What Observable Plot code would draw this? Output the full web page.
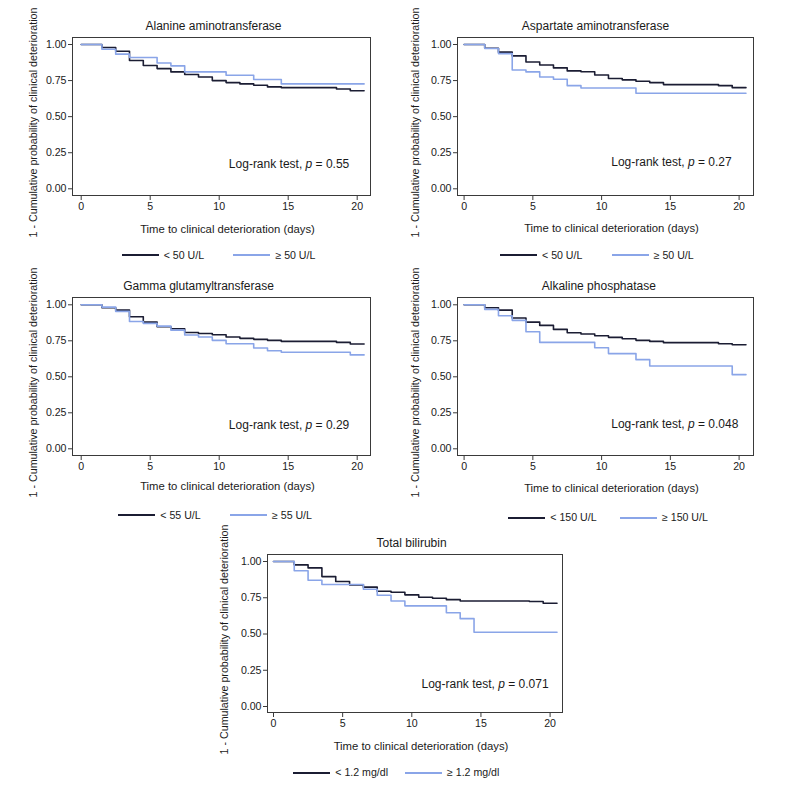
<!DOCTYPE html>
<html>
<head>
<meta charset="utf-8">
<script src="https://cdn.jsdelivr.net/npm/d3@7"></script>
<script src="https://cdn.jsdelivr.net/npm/@observablehq/plot@0.6"></script>
<style>
  html, body { margin: 0; padding: 0; background: #fff; }
  #page { position: relative; width: 787px; height: 786px; overflow: hidden; font-family: "Liberation Sans", Arial, Helvetica, sans-serif; color: #1a1a1a; }
  .panel { position: absolute; }
  .legend { position: absolute; font-size: 10.6px; line-height: 14px; white-space: nowrap; }
  .legend .item { display: inline-block; width: 111.7px; }
  .legend .sw { display: inline-block; width: 37px; height: 0; vertical-align: middle; margin-right: 5px; position: relative; top: -1px; }
</style>
</head>
<body>
<div id="page"></div>
<script>
// ---------- data (time in days, 1 - cumulative probability) ----------
const titles = ["Alanine aminotransferase", "Aspartate aminotransferase", "Gamma glutamyltransferase", "Alkaline phosphatase", "Total bilirubin"];
const pValues = ["0.55", "0.27", "0.29", "0.048", "0.071"];
const lowLabels = ["< 50 U/L", "< 50 U/L", "< 55 U/L", "< 150 U/L", "< 1.2 mg/dl"];
const highLabels = ["≥ 50 U/L", "≥ 50 U/L", "≥ 55 U/L", "≥ 150 U/L", "≥ 1.2 mg/dl"];
const xTicks = [0, 5, 10, 15, 20];
const yTicks = [0, 0.25, 0.5, 0.75, 1];
const xLabel = "Time to clinical deterioration (days)";
const yLabel = "1 - Cumulative probability of clinical deterioration";

const altLow = [[0,1],[1.5,.979],[2.5,.953],[3.5,.889],[4.5,.854],[5.5,.833],[6.5,.810],[7.5,.792],[8.5,.775],[9.5,.750],[10.5,.736],[11.5,.727],[12.5,.718],[13.5,.706],[14.5,.701],[18.5,.692],[19.5,.680],[20.5,.680]];
const altHigh = [[0,1],[1.5,.967],[2.5,.933],[3.5,.910],[5.5,.872],[6.5,.852],[7.5,.810],[10.5,.787],[12.5,.757],[14.5,.727],[20.5,.727]];
const astLow = [[0,1],[1.5,.974],[2.5,.947],[3.5,.921],[4.5,.879],[5.5,.858],[6.5,.838],[7.5,.817],[8.5,.811],[9.5,.789],[10.5,.764],[11.5,.755],[12.5,.745],[13.5,.736],[14.5,.722],[18.5,.715],[19.5,.701],[20.5,.701]];
const astHigh = [[0,1],[1.5,.972],[2.5,.937],[3.5,.823],[4.5,.810],[5.5,.775],[6.5,.759],[7.5,.715],[8.5,.699],[12.5,.662],[20.5,.662]];
const ggtLow = [[0,1],[1.5,.979],[2.5,.963],[3.5,.917],[4.5,.880],[5.5,.848],[6.5,.834],[7.5,.808],[8.5,.801],[9.5,.792],[10.5,.776],[11.5,.767],[12.5,.760],[13.5,.753],[14.5,.746],[18.5,.739],[19.5,.728],[20.5,.728]];
const ggtHigh = [[0,1],[1.5,.984],[2.5,.954],[3.5,.884],[4.5,.871],[5.5,.852],[6.5,.824],[7.5,.790],[8.5,.776],[9.5,.753],[10.5,.730],[12.5,.700],[13.5,.681],[14.5,.670],[19.5,.652],[20.5,.652]];
const alpLow = [[0,1],[1.5,.979],[2.5,.963],[3.5,.908],[4.5,.880],[5.5,.857],[6.5,.829],[7.5,.806],[8.5,.797],[9.5,.785],[10.5,.774],[11.5,.764],[12.5,.753],[13.5,.746],[14.5,.737],[18.5,.730],[19.5,.723],[20.5,.723]];
const alpHigh = [[0,1],[1.5,.968],[2.5,.924],[3.5,.892],[4.5,.813],[5.5,.739],[9.5,.702],[10.5,.661],[12.5,.619],[13.5,.575],[19.5,.515],[20.5,.515]];
const tbLow = [[0,1],[1.5,.977],[2.5,.956],[3.5,.896],[4.5,.862],[5.5,.839],[6.5,.823],[7.5,.795],[8.5,.788],[9.5,.770],[10.5,.753],[11.5,.747],[12.5,.737],[13.5,.728],[18.5,.724],[19.5,.712],[20.5,.712]];
const tbHigh = [[0,1],[1.5,.936],[2.5,.871],[3.5,.841],[6.5,.809],[7.5,.767],[8.5,.728],[9.5,.694],[12.5,.647],[13.5,.606],[14.5,.512],[20.5,.512]];

const lowSeries = [altLow, astLow, ggtLow, alpLow, tbLow];
const highSeries = [altHigh, astHigh, ggtHigh, alpHigh, tbHigh];

// ---------- layout ----------
const lowColor = "#1b1d33";
const highColor = "#8aa5e8";
const font = '"Liberation Sans", Arial, Helvetica, sans-serif';
const layout = [
  {left: 0,     top: 0,     fw: 298, ix: [8.7, 13.3], iy: [7, 6.7],   tdx: -8,   ydx: -38.7, xdy: 34, leg: [121.7, 255],   pY: 0.169},
  {left: 384.7, top: 0,     fw: 296, ix: [6.6, 14.4], iy: [7, 6.7],   tdx: -10,  ydx: -41.7, xdy: 33, leg: [500, 255],     pY: 0.182},
  {left: 0,     top: 259.7, fw: 298, ix: [8.7, 13.3], iy: [7.3, 6.7], tdx: -23,  ydx: -38.7, xdy: 31, leg: [118.3, 515],   pY: 0.161},
  {left: 384.7, top: 259.7, fw: 296, ix: [6.6, 14.4], iy: [7.3, 6.7], tdx: -6.7, ydx: -41.7, xdy: 33, leg: [508.3, 517.3], pY: 0.173},
  {left: 194.7, top: 517,   fw: 295, ix: [6, 12.4],   iy: [7, 6],     tdx: -3.4, ydx: -43.4, xdy: 33.5, leg: [293.3, 772.3], pY: 0.155}
];

const page = document.getElementById("page");
const W = 390, H = 250, ML = 72, MT = 37, FH = 158;

titles.forEach((title, i) => {
  const L = layout[i];
  const low = lowSeries[i].map(([t, s]) => ({t, s}));
  const high = highSeries[i].map(([t, s]) => ({t, s}));
  const svg = Plot.plot({
    width: W, height: H,
    marginLeft: ML, marginTop: MT, marginRight: W - ML - L.fw, marginBottom: H - MT - FH,
    x: {domain: [0, 20], insetLeft: L.ix[0], insetRight: L.ix[1]},
    y: {domain: [0, 1], insetTop: L.iy[0], insetBottom: L.iy[1]},
    style: {fontFamily: font, fontSize: "10.6px", color: "#1a1a1a", background: "transparent", overflow: "visible"},
    marks: [
      Plot.frame({stroke: "#3a3a3a", strokeWidth: 1}),
      Plot.axisX({ticks: xTicks, tickSize: 5, tickPadding: 2, label: null, stroke: "#3a3a3a"}),
      Plot.axisY({ticks: yTicks, tickSize: 4, tickPadding: 2, label: null, tickFormat: d3.format(".2f"), stroke: "#3a3a3a"}),
      Plot.line(low, {x: "t", y: "s", curve: "step-after", stroke: lowColor, strokeWidth: 1.6}),
      Plot.line(high, {x: "t", y: "s", curve: "step-after", stroke: highColor, strokeWidth: 1.6}),
      Plot.text([title], {frameAnchor: "top", dy: -11, dx: L.tdx, lineAnchor: "middle", fontSize: 12, fill: "#1a1a1a"}),
      Plot.text([xLabel], {frameAnchor: "bottom", dy: L.xdy, dx: 6, lineAnchor: "middle", fontSize: 11.3, fill: "#1a1a1a"}),
      Plot.text([yLabel], {frameAnchor: "left", dx: L.ydx, dy: 6, rotate: -90, lineAnchor: "middle", textAnchor: "middle", fontSize: 10.7, fill: "#1a1a1a"}),
      Plot.text(["Log-rank test, p = " + pValues[i]], {x: 10.7, y: L.pY, textAnchor: "start", lineAnchor: "middle", fontSize: 12, fill: "#1a1a1a"})
    ]
  });
  // italic p in the log-rank annotation
  for (const t of svg.querySelectorAll("text")) {
    const s = t.textContent;
    if (s.startsWith("Log-rank")) {
      const [pre, post] = s.split(" p ");
      t.textContent = "";
      const ns = "http://www.w3.org/2000/svg";
      const a = document.createElementNS(ns, "tspan"); a.textContent = pre + " ";
      const b = document.createElementNS(ns, "tspan"); b.textContent = "p"; b.setAttribute("font-style", "italic");
      const c = document.createElementNS(ns, "tspan"); c.textContent = " " + post;
      t.append(a, b, c);
    }
  }
  const wrap = document.createElement("div");
  wrap.className = "panel";
  wrap.style.left = L.left + "px";
  wrap.style.top = L.top + "px";
  wrap.appendChild(svg);
  page.appendChild(wrap);

  // legend
  const leg = document.createElement("div");
  leg.className = "legend";
  leg.style.left = L.leg[0] + "px";
  leg.style.top = (L.leg[1] - 7) + "px";
  [[lowColor, lowLabels[i]], [highColor, highLabels[i]]].forEach(([c, lab]) => {
    const item = document.createElement("span");
    item.className = "item";
    const sw = document.createElement("span");
    sw.className = "sw";
    sw.style.borderTop = "2px solid " + c;
    item.appendChild(sw);
    item.appendChild(document.createTextNode(lab));
    leg.appendChild(item);
  });
  page.appendChild(leg);
});
</script>
</body>
</html>
